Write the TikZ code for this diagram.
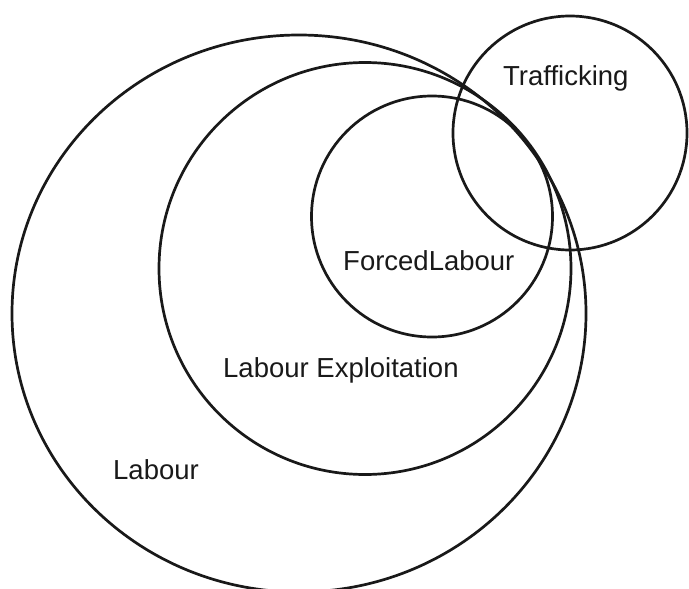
\documentclass[tikz,border=0pt]{standalone}
\usepackage{fontspec}
\setmainfont{Liberation Sans}
\usetikzlibrary{shapes.geometric}
\begin{document}
\begin{tikzpicture}[x=1pt, y=-1pt,
  set/.style={draw=black!90, line width=2.7pt, inner sep=0pt},
  setname/.style={anchor=base west, inner sep=0pt, text=black!90, font=\fontsize{27.5}{33}\selectfont}]
\useasboundingbox (0,0) rectangle (689,589);
% the sets
\node[shape=ellipse, set, minimum width=574pt, minimum height=557pt] (Lab) at (299,313.5) {};
\node[shape=circle, set, minimum size=412pt] (Expl) at (365,268.5) {};
\node[shape=circle, set, minimum size=241pt] (Forced) at (432,216.5) {};
\node[shape=circle, set, minimum size=234pt] (Traf) at (570,133) {};
% their names
\node[setname] (tTraf) at (503,85) {Trafficking};
\node[setname] (tForced) at (343,270) {ForcedLabour};
\node[setname] (tExpl) at (223,377) {Labour Exploitation};
\node[setname] (tLab) at (113,479) {Labour};
\end{tikzpicture}
\end{document}
